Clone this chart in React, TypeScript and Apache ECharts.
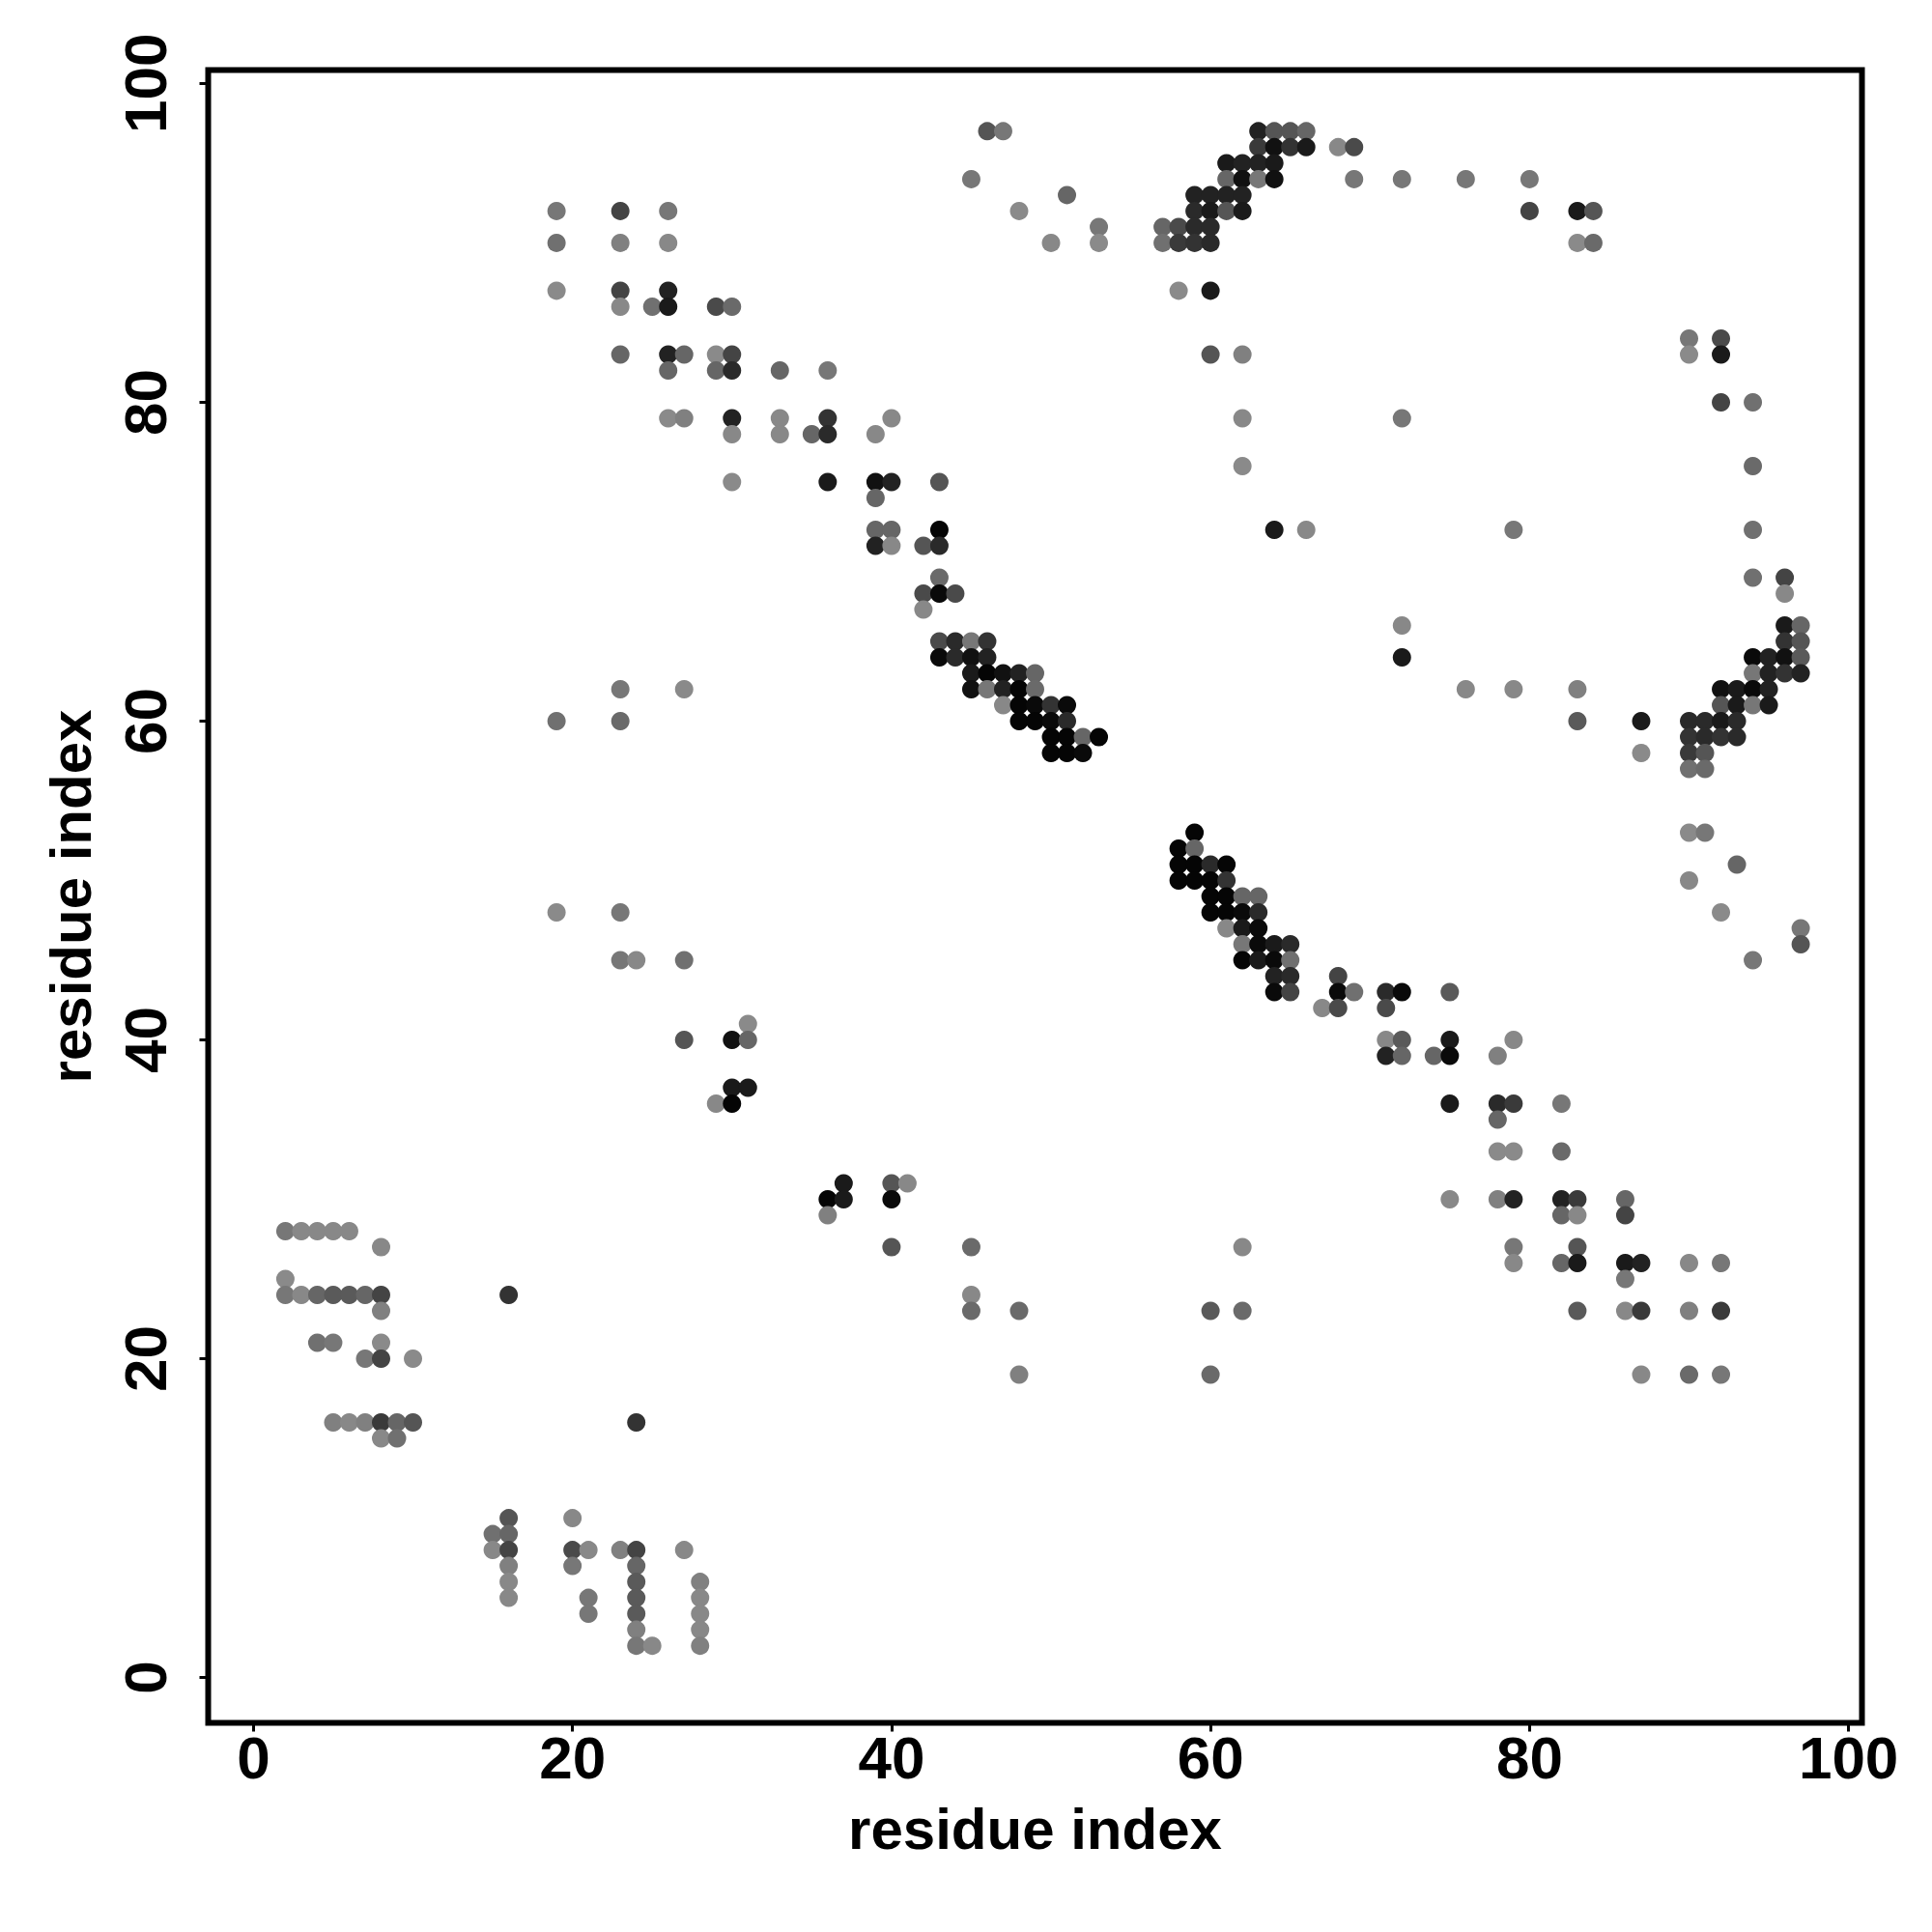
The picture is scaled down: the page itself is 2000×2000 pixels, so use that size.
import React, { useEffect, useRef } from "react";
import * as echarts from "echarts";

// [residue index (x), residue index (y), grey level 0-255 (0 = black)]
type Contact = [number, number, number];

const tickValues = [0, 20, 40, 60, 80, 100];
const axisTitle = "residue index";
const axisMin = -2.84;
const axisMax = 100.84;

const lowerLeftContacts: Contact[] = [
  [2, 28, 119], [3, 28, 136], [4, 28, 136], [5, 28, 136], [6, 28, 136],
  [8, 27, 136],
  [2, 25, 138],
  [2, 24, 119], [3, 24, 136], [4, 24, 102], [5, 24, 90], [6, 24, 90], [7, 24, 102], [8, 24, 68],
  [16, 24, 51],
  [8, 23, 128],
  [4, 21, 112], [5, 21, 119], [8, 21, 138],
  [7, 20, 119], [8, 20, 68], [10, 20, 138],
  [5, 16, 128], [6, 16, 136], [7, 16, 128], [8, 16, 58], [9, 16, 102], [10, 16, 85],
  [24, 16, 51],
  [8, 15, 136], [9, 15, 112],
  [16, 10, 85], [20, 10, 136],
  [15, 9, 112], [16, 9, 102],
  [15, 8, 136], [16, 8, 68], [20, 8, 74], [21, 8, 136], [23, 8, 128], [24, 8, 68], [27, 8, 136],
  [16, 7, 128], [20, 7, 119], [24, 7, 102],
  [16, 6, 136], [24, 6, 90], [28, 6, 128],
  [16, 5, 136], [21, 5, 119], [24, 5, 90], [28, 5, 136],
  [21, 4, 119], [24, 4, 90], [28, 4, 136],
  [24, 3, 128], [28, 3, 136],
  [24, 2, 119], [25, 2, 136], [28, 2, 128],
];

const upperLeftContacts: Contact[] = [
  [19, 92, 119], [23, 92, 68], [26, 92, 119],
  [19, 90, 112], [23, 90, 128], [26, 90, 136],
  [19, 87, 138], [23, 87, 68], [26, 87, 34],
  [23, 86, 136], [25, 86, 112], [26, 86, 26], [29, 86, 74], [30, 86, 106],
  [23, 83, 102], [26, 83, 34], [27, 83, 102], [29, 83, 138], [30, 83, 68],
  [26, 82, 102], [29, 82, 102], [30, 82, 42], [33, 82, 102], [36, 82, 119],
  [26, 79, 138], [27, 79, 128], [30, 79, 34], [33, 79, 136], [36, 79, 51], [40, 79, 136],
  [30, 78, 136], [33, 78, 136], [35, 78, 102], [36, 78, 42], [39, 78, 136],
  [30, 75, 138], [36, 75, 26], [39, 75, 17], [40, 75, 34], [43, 75, 85],
  [39, 74, 102],
  [39, 72, 102], [40, 72, 102], [43, 72, 5],
  [39, 71, 34], [40, 71, 136], [42, 71, 85], [43, 71, 42],
  [43, 69, 106],
  [42, 68, 74], [43, 68, 10], [44, 68, 74],
  [42, 67, 136],
];

const centralBandContacts: Contact[] = [
  [43, 65, 74], [44, 65, 42], [45, 65, 119], [46, 65, 51],
  [43, 64, 10], [44, 64, 42], [45, 64, 17], [46, 64, 34],
  [45, 63, 26], [46, 63, 5], [47, 63, 17], [48, 63, 34], [49, 63, 102],
  [45, 62, 17], [46, 62, 119], [47, 62, 34], [48, 62, 5], [49, 62, 106],
  [47, 61, 136], [48, 61, 5], [49, 61, 10], [50, 61, 51], [51, 61, 10],
  [48, 60, 5], [49, 60, 5], [50, 60, 10], [51, 60, 42],
  [50, 59, 5], [51, 59, 5], [52, 59, 102], [53, 59, 5],
  [50, 58, 5], [51, 58, 5], [52, 58, 10],
];

const middleLeftContacts: Contact[] = [
  [23, 62, 119], [27, 62, 138],
  [19, 60, 112], [23, 60, 106],
  [19, 48, 138], [23, 48, 119],
  [23, 45, 119], [24, 45, 136], [27, 45, 112],
  [31, 41, 138],
  [27, 40, 85], [30, 40, 17], [31, 40, 102],
  [30, 37, 26], [31, 37, 26],
  [29, 36, 136], [30, 36, 5],
];

const lowerMiddleContacts: Contact[] = [
  [37, 31, 26], [40, 31, 85], [41, 31, 136],
  [36, 30, 5], [37, 30, 26], [40, 30, 10],
  [36, 29, 128],
  [40, 27, 85], [45, 27, 106], [62, 27, 136],
  [45, 24, 136],
  [45, 23, 106], [48, 23, 106], [60, 23, 90], [62, 23, 106],
  [48, 19, 128], [60, 19, 106],
];

const upperRightContacts: Contact[] = [
  [46, 97, 85], [47, 97, 119],
  [45, 94, 119], [51, 93, 102], [48, 92, 138], [53, 91, 119], [50, 90, 136], [53, 90, 138],
  [63, 97, 34], [64, 97, 85], [65, 97, 85], [66, 97, 102],
  [63, 96, 58], [64, 96, 17], [65, 96, 51], [66, 96, 26], [68, 96, 136], [69, 96, 74],
  [61, 95, 26], [62, 95, 34], [63, 95, 34], [64, 95, 26],
  [61, 94, 102], [62, 94, 17], [63, 94, 119], [64, 94, 17], [69, 94, 119], [72, 94, 119], [76, 94, 119], [80, 94, 119],
  [59, 93, 34], [60, 93, 34], [61, 93, 34], [62, 93, 34],
  [59, 92, 42], [60, 92, 26], [61, 92, 85], [62, 92, 26], [80, 92, 68], [83, 92, 26], [84, 92, 85],
  [57, 91, 102], [58, 91, 74], [59, 91, 42], [60, 91, 42],
  [57, 90, 112], [58, 90, 58], [59, 90, 51], [60, 90, 42], [83, 90, 138], [84, 90, 106],
  [58, 87, 138], [60, 87, 26],
  [60, 83, 85], [62, 83, 128],
  [62, 79, 136], [72, 79, 119],
  [62, 76, 138],
  [64, 72, 26], [66, 72, 136], [79, 72, 119], [94, 72, 112],
];

const rightSideContacts: Contact[] = [
  [90, 84, 119], [92, 84, 74],
  [90, 83, 138], [92, 83, 26],
  [92, 80, 68], [94, 80, 112],
  [94, 76, 106],
  [94, 69, 112], [96, 69, 68],
  [96, 68, 136],
  [72, 66, 136], [96, 66, 26], [97, 66, 102],
  [96, 65, 51], [97, 65, 85],
  [72, 64, 26], [94, 64, 10], [95, 64, 34], [96, 64, 17], [97, 64, 90],
  [94, 63, 119], [95, 63, 34], [96, 63, 51], [97, 63, 34],
  [76, 62, 136], [79, 62, 136], [83, 62, 128], [92, 62, 17], [93, 62, 26], [94, 62, 10], [95, 62, 34],
  [92, 61, 85], [93, 61, 26], [94, 61, 119], [95, 61, 26],
  [83, 60, 90], [87, 60, 26], [90, 60, 42], [91, 60, 42], [92, 60, 26], [93, 60, 42],
  [90, 59, 51], [91, 59, 42], [92, 59, 51], [93, 59, 42],
  [87, 58, 138], [90, 58, 58], [91, 58, 85],
  [90, 57, 112], [91, 57, 106],
  [90, 53, 138], [91, 53, 119],
  [93, 51, 102],
  [90, 50, 136],
  [92, 48, 138],
  [97, 47, 119], [97, 46, 85],
  [94, 45, 119],
];

const secondDiagonalContacts: Contact[] = [
  [59, 53, 5],
  [58, 52, 5], [59, 52, 102],
  [58, 51, 5], [59, 51, 5], [60, 51, 42], [61, 51, 5],
  [58, 50, 5], [59, 50, 5], [60, 50, 5], [61, 50, 51],
  [60, 49, 5], [61, 49, 5], [62, 49, 102], [63, 49, 102],
  [60, 48, 5], [61, 48, 5], [62, 48, 10], [63, 48, 42],
  [61, 47, 136], [62, 47, 26], [63, 47, 10],
  [62, 46, 119], [63, 46, 10], [64, 46, 26], [65, 46, 42],
  [62, 45, 5], [63, 45, 26], [64, 45, 10], [65, 45, 112],
  [64, 44, 34], [65, 44, 42], [68, 44, 68],
  [64, 43, 10], [65, 43, 68], [68, 43, 10], [69, 43, 112], [71, 43, 42], [72, 43, 10], [75, 43, 90],
  [67, 42, 136], [68, 42, 74], [71, 42, 74],
  [71, 40, 136], [72, 40, 90], [75, 40, 26], [79, 40, 136],
  [71, 39, 34], [72, 39, 102], [74, 39, 102], [75, 39, 10], [78, 39, 128],
  [75, 36, 26], [78, 36, 42], [79, 36, 58], [82, 36, 119],
  [78, 35, 102],
  [78, 33, 138], [79, 33, 138], [82, 33, 106],
  [75, 30, 136], [78, 30, 128], [79, 30, 34], [82, 30, 34], [83, 30, 58], [86, 30, 102],
  [82, 29, 102], [83, 29, 136], [86, 29, 68],
  [79, 27, 119], [83, 27, 85],
  [79, 26, 136], [82, 26, 102], [83, 26, 26], [86, 26, 26], [87, 26, 34], [90, 26, 136], [92, 26, 119],
  [86, 25, 119],
  [83, 23, 90], [86, 23, 136], [87, 23, 58], [90, 23, 128], [92, 23, 58],
  [87, 19, 136], [90, 19, 106], [92, 19, 119],
];

const allContacts: Contact[] = [
  ...lowerLeftContacts,
  ...upperLeftContacts,
  ...centralBandContacts,
  ...middleLeftContacts,
  ...lowerMiddleContacts,
  ...upperRightContacts,
  ...rightSideContacts,
  ...secondDiagonalContacts,
];

const FONT = "'Liberation Sans', Arial, Helvetica, sans-serif";

export default function App() {
  const ref = useRef<HTMLDivElement>(null);

  useEffect(() => {
    if (!ref.current) return;
    const chart = echarts.init(ref.current, undefined, { renderer: "svg" });

    const axisCommon = {
      type: "value" as const,
      min: axisMin,
      max: axisMax,
      splitLine: { show: false },
      axisLine: { show: false, onZero: false },
      axisTick: {
        show: true,
        inside: false,
        length: 9,
        customValues: tickValues,
        lineStyle: { color: "#000", width: 3 },
      },
      name: axisTitle,
      nameLocation: "middle" as const,
      nameTextStyle: {
        fontFamily: FONT,
        fontWeight: "bold" as const,
        fontSize: 60,
        color: "#000",
      },
    };

    const labelStyle = {
      customValues: tickValues,
      fontFamily: FONT,
      fontWeight: "bold" as const,
      fontSize: 62,
      color: "#000",
    };

    chart.setOption({
      animation: false,
      backgroundColor: "#fff",
      grid: {
        left: 215.5,
        top: 72.5,
        width: 1712,
        height: 1711,
        show: true,
        borderColor: "#000",
        borderWidth: 6,
        backgroundColor: "transparent",
        containLabel: false,
      },
      xAxis: {
        ...axisCommon,
        position: "bottom",
        nameGap: 80,
        axisLabel: { ...labelStyle, margin: 5 },
      },
      yAxis: {
        ...axisCommon,
        position: "left",
        nameGap: 112,
        axisLabel: { ...labelStyle, margin: 34, rotate: 90 },
      },
      series: [
        {
          type: "scatter",
          symbol: "circle",
          symbolSize: 19,
          data: allContacts.map(([x, y, g]) => ({
            value: [x, y],
            itemStyle: { color: `rgb(${g},${g},${g})`, opacity: 1 },
          })),
        },
      ],
    });

    return () => chart.dispose();
  }, []);

  return (
    <div
      ref={ref}
      style={{ position: "absolute", left: 0, top: 0, width: 2000, height: 2000, background: "#fff" }}
    />
  );
}
